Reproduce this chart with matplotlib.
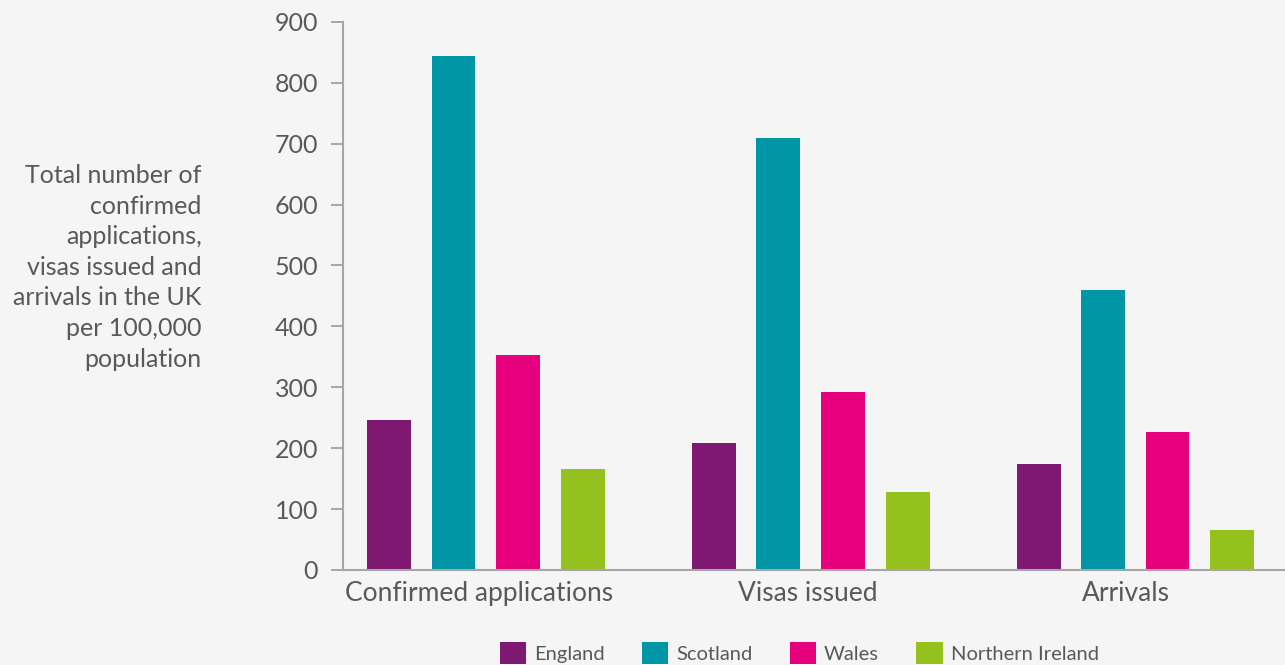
import numpy as np
import matplotlib.pyplot as plt
from matplotlib.patches import Patch

plt.rcParams['font.family'] = ['Lato', 'DejaVu Sans']

# Data
categories = ["Confirmed applications", "Visas issued", "Arrivals"]
nations = ["England", "Scotland", "Wales", "Northern Ireland"]
england = [246, 209, 174]
scotland = [844, 709, 460]
wales = [353, 292, 227]
northern_ireland = [166, 128, 66]
yticks = [0, 100, 200, 300, 400, 500, 600, 700, 800, 900]
ylabel = ("Total number of\nconfirmed\napplications,\nvisas issued and\n"
          "arrivals in the UK\nper 100,000\npopulation")

colors = ["#7f1870", "#0096a6", "#e6007e", "#95c11f"]
series = [england, scotland, wales, northern_ireland]
offsets = [-0.298, -0.1, 0.098, 0.298]
bar_w = 0.135
bg = "#f5f5f5"
txt = "#595959"

fig = plt.figure(figsize=(12.85, 6.65), dpi=100, facecolor=bg)
ax = fig.add_axes([0.267, 0.143, 0.733, 0.824], facecolor=bg)

x = np.arange(len(categories))
for vals, off, col in zip(series, offsets, colors):
    ax.bar(x + off, vals, width=bar_w, color=col, zorder=2)

ax.set_xlim(-0.44, 2.46)
ax.set_ylim(0, 900)
ax.set_yticks(yticks)
ax.tick_params(axis='y', labelsize=18, labelcolor=txt, color="#999999",
               length=9, width=1.2, pad=9)
ax.set_xticks(x + np.array([-0.02, -0.01, -0.03]))
ax.set_xticklabels(categories)
ax.tick_params(axis='x', length=0, labelsize=19, labelcolor=txt, pad=8)

for s in ["top", "right"]:
    ax.spines[s].set_visible(False)
for s in ["left", "bottom"]:
    ax.spines[s].set_color("#a6a6a6")
    ax.spines[s].set_linewidth(1.5)

fig.text(0.157, 0.598, ylabel, ha="right", va="center", fontsize=18,
         color=txt, linespacing=1.4)

handles = [Patch(facecolor=c, label=n) for c, n in zip(colors, nations)]
fig.legend(handles=handles, loc="center", bbox_to_anchor=(0.622, 0.018),
           ncol=4, frameon=False, fontsize=14.5, labelcolor=txt,
           handlelength=1.3, handleheight=1.3, handletextpad=0.4,
           columnspacing=1.85, borderaxespad=0, borderpad=0)

fig.savefig("out.png", dpi=100, facecolor=bg)
